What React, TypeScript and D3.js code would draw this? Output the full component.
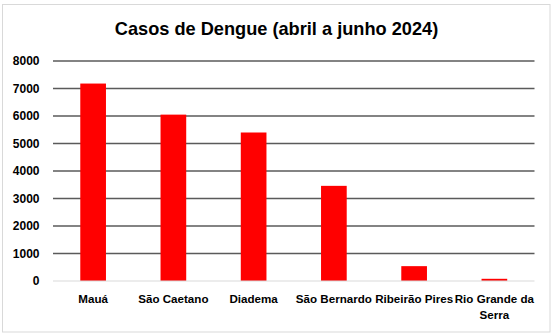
import React from "react";
import * as d3 from "d3";

const categories = ["Mauá", "São Caetano", "Diadema", "São Bernardo", "Ribeirão Pires", "Rio Grande da Serra"];
const cases = [7180, 6050, 5400, 3460, 540, 80];
const yTicks = [0, 1000, 2000, 3000, 4000, 5000, 6000, 7000, 8000];
const title = "Casos de Dengue (abril a junho 2024)";

const W = 555;
const H = 336;
const FONT = "'Liberation Sans', Arial, sans-serif";

function wrapLabel(label: string): string[] {
  if (label === "Rio Grande da Serra") return ["Rio Grande da", "Serra"];
  return [label];
}

export default function App() {
  const x = d3.scaleBand<string>().domain(categories).range([53, 534.5]).paddingInner(0.68).paddingOuter(0.34);
  const y = d3.scaleLinear().domain([0, 8000]).range([281, 61]);

  return (
    <svg width={W} height={H} style={{ position: "absolute", left: 0, top: 0, background: "#fff" }}>
      <rect x={2.5} y={4.5} width={547.5} height={327.5} fill="#fff" stroke="#d9d9d9" strokeWidth={1} />
      <text x={276.5} y={35} textAnchor="middle" fontFamily={FONT} fontWeight="bold" fontSize={18.2} fill="#000">
        {title}
      </text>
      {yTicks.map((t) => (
        <g key={t}>
          {t > 0 && (
            <line x1={53} x2={534.5} y1={y(t)} y2={y(t)} stroke="#5a5a5a" strokeWidth={1.3} />
          )}
          <text x={39.5} y={y(t) + 4.3} textAnchor="end" fontFamily={FONT} fontWeight="bold" fontSize={12} fill="#000">
            {t}
          </text>
        </g>
      ))}
      {categories.map((c, i) => (
        <rect key={c} x={x(c)} y={y(cases[i])} width={x.bandwidth()} height={y(0) - y(cases[i])} fill="#ff0000" />
      ))}
      <line x1={53} x2={534.5} y1={y(0)} y2={y(0)} stroke="#d9d9d9" strokeWidth={1} />
      {categories.map((c) => (
        <text key={c} textAnchor="middle" fontFamily={FONT} fontWeight="bold" fontSize={11.6} fill="#000">
          {wrapLabel(c).map((line, j) => (
            <tspan key={j} x={(x(c) as number) + x.bandwidth() / 2} y={302.5 + j * 16.5}>
              {line}
            </tspan>
          ))}
        </text>
      ))}
    </svg>
  );
}
